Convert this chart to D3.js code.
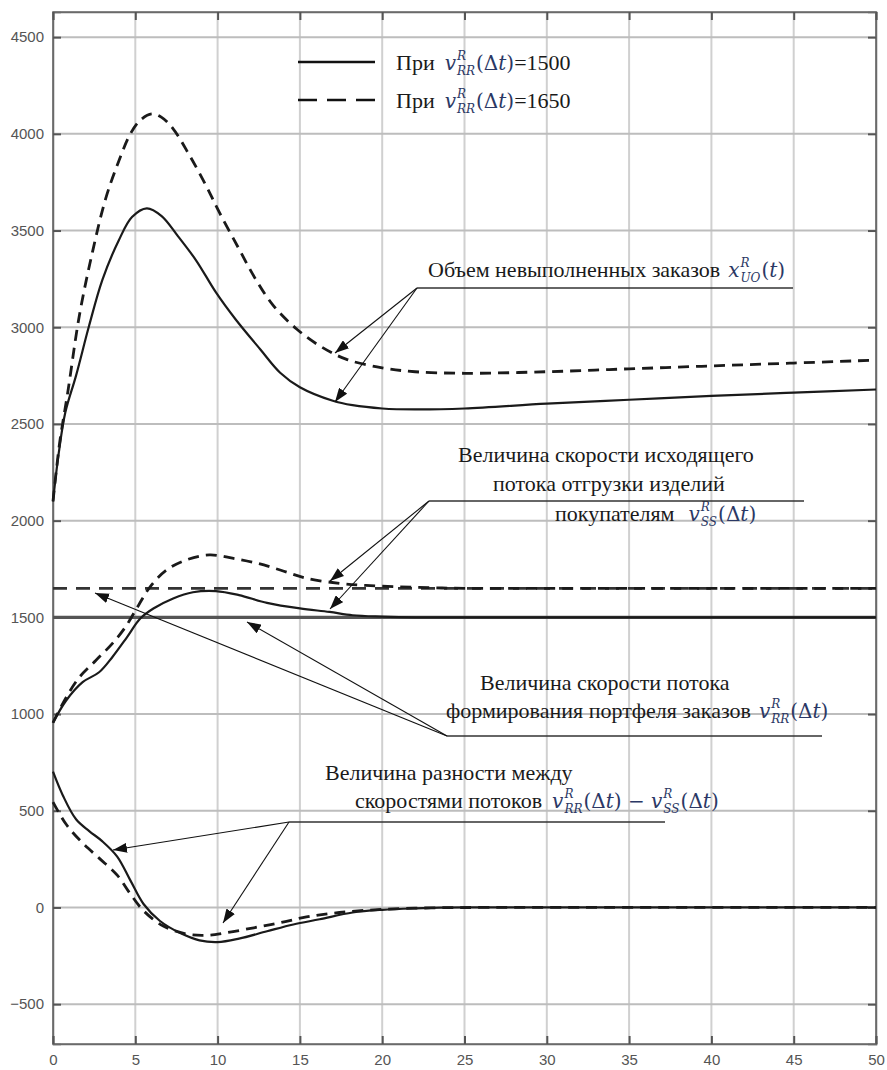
<!DOCTYPE html>
<html>
<head>
<meta charset="utf-8">
<script src="https://cdn.jsdelivr.net/npm/d3@7"></script>
<style>
  html, body { margin: 0; padding: 0; background: #ffffff; }
  svg { display: block; }
  .serif { font-family: "Liberation Serif", "Tinos", "Times New Roman", "Times", "DejaVu Serif", "Noto Serif", serif; }
  .math { font-family: "DejaVu Serif", "Liberation Serif", "Times New Roman", serif; }
</style>
</head>
<body>
<svg id="chart" width="887" height="1070"></svg>
<script>
// ---------------- DATA ----------------
const xTicks = [0, 5, 10, 15, 20, 25, 30, 35, 40, 45, 50];
const yTicks = [-500, 0, 500, 1000, 1500, 2000, 2500, 3000, 3500, 4000, 4500];

// Backlog x_UO(t)
const tBacklog1500 = [0, 0.35, 0.75, 1.4, 2.2, 3.0, 4.0, 4.8, 5.7, 6.6, 7.6, 8.7, 9.9, 11.1, 12.6, 13.8, 15, 17, 18.2, 20, 22, 25, 30, 35, 40, 45, 50];
const backlog1500  = [2100, 2350, 2560, 2750, 3010, 3245, 3450, 3570, 3615, 3575, 3470, 3345, 3180, 3040, 2885, 2765, 2690, 2620, 2597, 2580, 2575, 2580, 2605, 2625, 2645, 2662, 2678];
const tBacklog1650 = [0, 0.4, 0.9, 1.6, 2.4, 3.2, 4.0, 4.7, 5.3, 6.0, 6.6, 7.3, 8.3, 9.3, 10.1, 11.3, 12.3, 13.4, 14.8, 16.2, 17.8, 20, 22, 25, 30, 35, 40, 45, 50];
const backlog1650  = [2100, 2400, 2665, 3060, 3390, 3665, 3860, 4000, 4070, 4103, 4085, 4026, 3888, 3732, 3595, 3405, 3250, 3111, 2991, 2904, 2835, 2790, 2770, 2762, 2770, 2785, 2800, 2815, 2830];

// Outgoing shipment rate v_SS
const tShip1500 = [0, 0.8, 1.8, 2.8, 3.6, 4.5, 5.3, 6.1, 7.3, 8.5, 9.9, 11.3, 13, 15, 16.8, 18.2, 20, 22, 25, 30, 50];
const ship1500  = [955, 1070, 1165, 1216, 1294, 1398, 1494, 1546, 1598, 1630, 1636, 1615, 1575, 1546, 1528, 1511, 1504, 1500, 1500, 1500, 1500];
const tShip1650 = [0, 0.8, 1.6, 2.6, 3.6, 4.4, 5.2, 5.9, 6.9, 8.1, 9.5, 10.9, 12.4, 13.8, 15.4, 17.4, 19, 21, 23, 25, 30, 50];
const ship1650  = [955, 1086, 1190, 1277, 1364, 1450, 1563, 1658, 1745, 1797, 1823, 1806, 1780, 1745, 1702, 1676, 1665, 1658, 1653, 1650, 1650, 1650];

// Order intake rate v_RR (constant levels)
const orderLevels = [1500, 1650];

// Difference v_RR - v_SS
const tDiff1500 = [0, 0.6, 1.4, 2.2, 3.0, 3.9, 4.7, 5.5, 6.5, 7.7, 8.9, 10, 11.3, 13, 14.6, 16.2, 18.2, 20, 22, 25, 30, 50];
const diff1500  = [702, 579, 456, 395, 342, 263, 140, 18, -70, -131, -170, -179, -161, -123, -88, -61, -26, -12, -5, 0, 0, 0];
const tDiff1650 = [0, 0.8, 1.8, 2.8, 3.9, 4.7, 5.5, 6.7, 8.1, 9.3, 10.5, 12.2, 13.8, 15.4, 17.4, 20, 23, 26, 30, 50];
const diff1650  = [545, 430, 333, 255, 167, 70, -17, -96, -137, -144, -131, -105, -79, -49, -26, -10, -2, 0, 0, 0];

// ---------------- LAYOUT ----------------
const svg = d3.select("#chart");
const L = 53, R = 876, T = 12, B = 1044;
const x = d3.scaleLinear().domain([0, 50]).range([L, R]);
const y = d3.scaleLinear().domain([-706, 4630]).range([B, T]);

const MATHCOL = "#2b3865";

// grid
const grid = svg.append("g");
grid.selectAll(".vg").data(xTicks).join("line")
  .attr("x1", d => x(d)).attr("x2", d => x(d)).attr("y1", T).attr("y2", B)
  .attr("stroke", "#d0d0d0").attr("stroke-width", 2);
grid.selectAll(".hg").data(yTicks).join("line")
  .attr("x1", L).attr("x2", R).attr("y1", d => y(d)).attr("y2", d => y(d))
  .attr("stroke", "#bdbdbd").attr("stroke-width", 2);

// frame
svg.append("rect").attr("x", L).attr("y", T).attr("width", R - L).attr("height", B - T)
  .attr("fill", "none").attr("stroke", "#6a6a6a").attr("stroke-width", 1.5);

// axes with inward ticks
const axL = svg.append("g").attr("transform", `translate(${L},0)`)
  .call(d3.axisLeft(y).tickValues(yTicks).tickSize(-8).tickPadding(9).tickFormat(d3.format("d")));
const axR = svg.append("g").attr("transform", `translate(${R},0)`)
  .call(d3.axisRight(y).tickValues(yTicks).tickSize(-8).tickFormat(""));
const axB = svg.append("g").attr("transform", `translate(0,${B})`)
  .call(d3.axisBottom(x).tickValues(xTicks).tickSize(-8).tickPadding(10).tickFormat(d3.format("d")));
const axT = svg.append("g").attr("transform", `translate(0,${T})`)
  .call(d3.axisTop(x).tickValues(xTicks).tickSize(-8).tickFormat(""));
[axL, axR, axB, axT].forEach(a => {
  a.select(".domain").attr("stroke", "#6a6a6a").attr("stroke-width", 1.5);
  a.selectAll(".tick line").attr("stroke", "#555").attr("stroke-width", 2);
  a.selectAll(".tick text").attr("fill", "#555")
    .style("font-family", "'Liberation Sans', Arial, sans-serif").style("font-size", "15px");
});

// ---------------- CURVES ----------------
const line = d3.line().x(d => x(d[0])).y(d => y(d[1])).curve(d3.curveCatmullRom.alpha(0.5));
const zip = (ts, vs) => ts.map((t, i) => [t, vs[i]]);
const plot = svg.append("g");

// reference levels of v_RR
plot.append("line").attr("x1", x(0)).attr("x2", x(50)).attr("y1", y(orderLevels[0])).attr("y2", y(orderLevels[0]))
  .attr("stroke", "#555").attr("stroke-width", 3.2);
plot.append("line").attr("x1", x(0)).attr("x2", x(50)).attr("y1", y(orderLevels[1])).attr("y2", y(orderLevels[1]))
  .attr("stroke", "#333").attr("stroke-width", 2.8).attr("stroke-dasharray", "14,9");

const solidSeries = [zip(tBacklog1500, backlog1500), zip(tShip1500, ship1500), zip(tDiff1500, diff1500)];
const dashSeries  = [zip(tBacklog1650, backlog1650), zip(tShip1650, ship1650), zip(tDiff1650, diff1650)];

plot.selectAll(".dash").data(dashSeries).join("path")
  .attr("d", line).attr("fill", "none").attr("stroke", "#1a1a1a")
  .attr("stroke-width", 2.8).attr("stroke-dasharray", "11,7");
plot.selectAll(".solid").data(solidSeries).join("path")
  .attr("d", line).attr("fill", "none").attr("stroke", "#1a1a1a").attr("stroke-width", 2.2);

// ---------------- ANNOTATIONS ----------------
const defs = svg.append("defs");
defs.append("marker").attr("id", "arr").attr("viewBox", "0 0 14 10")
  .attr("refX", 14).attr("refY", 5).attr("markerWidth", 14).attr("markerHeight", 10)
  .attr("markerUnits", "userSpaceOnUse").attr("orient", "auto")
  .append("path").attr("d", "M0,0 L14,5 L0,10 z").attr("fill", "#111");

const ann = svg.append("g");

function richText(x0, y0, segs) {
  let cx = x0;
  segs.forEach(s => {
    if (s.math) {
      const base = ann.append("text").attr("class", "math").attr("x", cx).attr("y", y0)
        .style("font-style", "italic").style("font-size", "20px")
        .attr("fill", MATHCOL).text(s.math);
      cx += base.node().getComputedTextLength() + 1;
      let w = 0;
      if (s.sup) {
        const sp = ann.append("text").attr("class", "math").attr("x", cx).attr("y", y0 - 10)
          .style("font-style", "italic").style("font-size", "12px")
          .attr("fill", MATHCOL).text(s.sup);
        w = Math.max(w, sp.node().getComputedTextLength());
      }
      if (s.sub) {
        const sb = ann.append("text").attr("class", "math").attr("x", cx).attr("y", y0 + 5)
          .style("font-style", "italic").style("font-size", "12px")
          .attr("fill", MATHCOL).text(s.sub);
        w = Math.max(w, sb.node().getComputedTextLength());
      }
      cx += w + 1;
    } else if (s.mtext) {
      const t = ann.append("text").attr("class", "math").attr("x", cx).attr("y", y0)
        .style("font-size", "20px").attr("fill", MATHCOL).attr("xml:space", "preserve");
      if (s.italicT) {
        t.append("tspan").text(s.pre || "(Δ");
        t.append("tspan").style("font-style", "italic").text("t");
        t.append("tspan").text(")");
      } else {
        t.text(s.mtext);
      }
      cx += t.node().getComputedTextLength();
    } else {
      const t = ann.append("text").attr("class", "serif").attr("x", cx).attr("y", y0)
        .style("font-size", "22px").attr("fill", "#1a1a1a")
        .attr("xml:space", "preserve").text(s.t);
      cx += t.node().getComputedTextLength();
    }
    if (s.gap) cx += s.gap;
  });
  return cx;
}

function arrowGroup(ox, oy, x1, tips) {
  ann.append("line").attr("x1", ox).attr("y1", oy).attr("x2", x1).attr("y2", oy)
    .attr("stroke", "#333").attr("stroke-width", 1.3);
  tips.forEach(tp => {
    ann.append("line").attr("x1", ox).attr("y1", oy).attr("x2", tp[0]).attr("y2", tp[1])
      .attr("stroke", "#111").attr("stroke-width", 1.1).attr("marker-end", "url(#arr)");
  });
}

// Legend
ann.append("line").attr("x1", 298).attr("x2", 375).attr("y1", 62).attr("y2", 62)
  .attr("stroke", "#111").attr("stroke-width", 2.4);
ann.append("line").attr("x1", 298).attr("x2", 375).attr("y1", 100).attr("y2", 100)
  .attr("stroke", "#111").attr("stroke-width", 2.4).attr("stroke-dasharray", "19,10");
richText(396, 70, [{t: "При", gap: 10}, {math: "v", sup: "R", sub: "RR"}, {mtext: "(Δt)", italicT: true}, {t: "=1500"}]);
richText(396, 108, [{t: "При", gap: 10}, {math: "v", sup: "R", sub: "RR"}, {mtext: "(Δt)", italicT: true}, {t: "=1650"}]);

// Annotation 1: backlog
richText(428, 277, [{t: "Объем невыполненных заказов", gap: 8}, {math: "x", sup: "R", sub: "UO"}, {mtext: "(t)", italicT: true, pre: "("}]);
arrowGroup(417, 288, 793, [[335, 353], [335, 402]]);

// Annotation 2: outgoing shipment rate
richText(458, 462, [{t: "Величина скорости исходящего"}]);
richText(493, 491, [{t: "потока отгрузки изделий"}]);
richText(555, 521, [{t: "покупателям", gap: 14}, {math: "v", sup: "R", sub: "SS"}, {mtext: "(Δt)", italicT: true}]);
arrowGroup(429, 501, 804, [[330, 581], [330, 609]]);

// Annotation 3: order intake rate
richText(480, 690, [{t: "Величина скорости потока"}]);
richText(446, 718, [{t: "формирования портфеля заказов", gap: 8}, {math: "v", sup: "R", sub: "RR"}, {mtext: "(Δt)", italicT: true}]);
arrowGroup(447, 736, 822, [[95, 593], [247, 622]]);

// Annotation 4: difference
richText(325, 780, [{t: "Величина разности между"}]);
richText(355, 808, [{t: "скоростями потоков", gap: 10}, {math: "v", sup: "R", sub: "RR"}, {mtext: "(Δt)", italicT: true}, {mtext: " − "}, {math: "v", sup: "R", sub: "SS"}, {mtext: "(Δt)", italicT: true}]);
arrowGroup(289, 822, 665, [[113, 850], [223, 923]]);
</script>
</body>
</html>
